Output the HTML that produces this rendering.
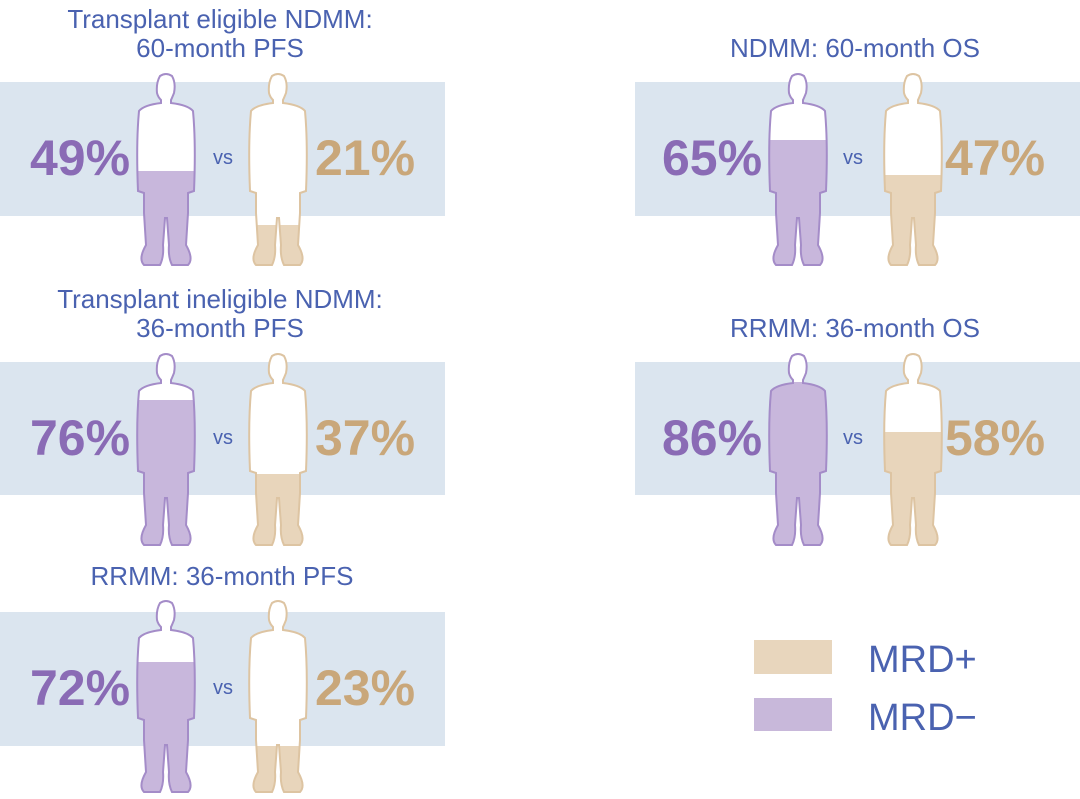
<!DOCTYPE html>
<html><head><meta charset="utf-8"><style>
html,body{margin:0;padding:0;background:#fff;}
body{width:1080px;height:794px;overflow:hidden;}
svg text{font-family:"Liberation Sans",sans-serif;}
</style></head><body>
<svg width="1080" height="794" viewBox="0 0 1080 794" xmlns="http://www.w3.org/2000/svg">
<defs>
<path id="p" d="M22,3 Q28,-1 34,3 Q38,10 36,20 Q34,25 33,27 L33,30 Q50,32 55,38 Q58,70 56,118 L50,120 L50,140 L48,172 Q56,186 50,192 L34,192 Q30,184 31,172 L29,145 L27,145 L25,172 Q26,184 22,192 L6,192 Q0,186 8,172 L6,140 L6,120 L0,118 Q-2,70 1,38 Q6,32 23,30 L23,27 Q20,24 19,20 Q18,10 22,3 Z"/>
<clipPath id="c1" clipPathUnits="userSpaceOnUse"><rect x="130" y="171" width="70" height="100"/></clipPath>
<clipPath id="c2" clipPathUnits="userSpaceOnUse"><rect x="242" y="225" width="70" height="50"/></clipPath>
<clipPath id="c3" clipPathUnits="userSpaceOnUse"><rect x="130" y="400" width="70" height="200"/></clipPath>
<clipPath id="c4" clipPathUnits="userSpaceOnUse"><rect x="242" y="474" width="70" height="100"/></clipPath>
<clipPath id="c5" clipPathUnits="userSpaceOnUse"><rect x="130" y="662" width="70" height="200"/></clipPath>
<clipPath id="c6" clipPathUnits="userSpaceOnUse"><rect x="242" y="746" width="70" height="100"/></clipPath>
<clipPath id="c7" clipPathUnits="userSpaceOnUse"><rect x="762" y="140" width="70" height="200"/></clipPath>
<clipPath id="c8" clipPathUnits="userSpaceOnUse"><rect x="877" y="175" width="70" height="200"/></clipPath>
<clipPath id="c9" clipPathUnits="userSpaceOnUse"><rect x="762" y="382" width="70" height="200"/></clipPath>
<clipPath id="c10" clipPathUnits="userSpaceOnUse"><rect x="877" y="432" width="70" height="200"/></clipPath>
</defs>
<g fill="#dbe5ef">
<rect x="0" y="82" width="445" height="134"/>
<rect x="0" y="362" width="445" height="133"/>
<rect x="0" y="612" width="445" height="134"/>
<rect x="635" y="82" width="445" height="134"/>
<rect x="635" y="362" width="445" height="133"/>
</g>
<g fill="#4a62b0" font-size="26" text-anchor="middle">
<text x="220" y="28">Transplant eligible NDMM:</text>
<text x="220" y="57">60-month PFS</text>
<text x="220" y="308">Transplant ineligible NDMM:</text>
<text x="220" y="337">36-month PFS</text>
<text x="222" y="585">RRMM: 36-month PFS</text>
<text x="855" y="57">NDMM: 60-month OS</text>
<text x="855" y="337">RRMM: 36-month OS</text>
</g>

<use href="#p" x="138" y="73" fill="#fff"/>
<g clip-path="url(#c1)"><use href="#p" x="138" y="73" fill="#c8b7dc"/></g>
<use href="#p" x="138" y="73" fill="none" stroke="#a48cc8" stroke-width="2"/>
<use href="#p" x="250" y="73" fill="#fff"/>
<g clip-path="url(#c2)"><use href="#p" x="250" y="73" fill="#e8d5bb"/></g>
<use href="#p" x="250" y="73" fill="none" stroke="#ddc4a2" stroke-width="2"/>

<use href="#p" x="138" y="353" fill="#fff"/>
<g clip-path="url(#c3)"><use href="#p" x="138" y="353" fill="#c8b7dc"/></g>
<use href="#p" x="138" y="353" fill="none" stroke="#a48cc8" stroke-width="2"/>
<use href="#p" x="250" y="353" fill="#fff"/>
<g clip-path="url(#c4)"><use href="#p" x="250" y="353" fill="#e8d5bb"/></g>
<use href="#p" x="250" y="353" fill="none" stroke="#ddc4a2" stroke-width="2"/>

<use href="#p" x="138" y="600" fill="#fff"/>
<g clip-path="url(#c5)"><use href="#p" x="138" y="600" fill="#c8b7dc"/></g>
<use href="#p" x="138" y="600" fill="none" stroke="#a48cc8" stroke-width="2"/>
<use href="#p" x="250" y="600" fill="#fff"/>
<g clip-path="url(#c6)"><use href="#p" x="250" y="600" fill="#e8d5bb"/></g>
<use href="#p" x="250" y="600" fill="none" stroke="#ddc4a2" stroke-width="2"/>

<use href="#p" x="770" y="73" fill="#fff"/>
<g clip-path="url(#c7)"><use href="#p" x="770" y="73" fill="#c8b7dc"/></g>
<use href="#p" x="770" y="73" fill="none" stroke="#a48cc8" stroke-width="2"/>
<use href="#p" x="885" y="73" fill="#fff"/>
<g clip-path="url(#c8)"><use href="#p" x="885" y="73" fill="#e8d5bb"/></g>
<use href="#p" x="885" y="73" fill="none" stroke="#ddc4a2" stroke-width="2"/>

<use href="#p" x="770" y="353" fill="#fff"/>
<g clip-path="url(#c9)"><use href="#p" x="770" y="353" fill="#c8b7dc"/></g>
<use href="#p" x="770" y="353" fill="none" stroke="#a48cc8" stroke-width="2"/>
<use href="#p" x="885" y="353" fill="#fff"/>
<g clip-path="url(#c10)"><use href="#p" x="885" y="353" fill="#e8d5bb"/></g>
<use href="#p" x="885" y="353" fill="none" stroke="#ddc4a2" stroke-width="2"/>

<g font-size="50" font-weight="bold" text-anchor="middle">
<text x="80" y="175" fill="#8a6bb5">49%</text>
<text x="365" y="175" fill="#c9a77a">21%</text>
<text x="80" y="455" fill="#8a6bb5">76%</text>
<text x="365" y="455" fill="#c9a77a">37%</text>
<text x="80" y="705" fill="#8a6bb5">72%</text>
<text x="365" y="705" fill="#c9a77a">23%</text>
<text x="712" y="175" fill="#8a6bb5">65%</text>
<text x="995" y="175" fill="#c9a77a">47%</text>
<text x="712" y="455" fill="#8a6bb5">86%</text>
<text x="995" y="455" fill="#c9a77a">58%</text>
</g>
<g font-size="20" fill="#4a62b0" text-anchor="middle">
<text x="223" y="164">vs</text>
<text x="223" y="444">vs</text>
<text x="223" y="694">vs</text>
<text x="853" y="164">vs</text>
<text x="853" y="444">vs</text>
</g>
<rect x="754" y="640" width="78" height="34" fill="#e8d6bd"/>
<rect x="754" y="698" width="78" height="33" fill="#c8b8da"/>
<g font-size="38" fill="#4a62b0">
<text x="868" y="672">MRD+</text>
<text x="868" y="730">MRD−</text>
</g>
</svg>
</body></html>
